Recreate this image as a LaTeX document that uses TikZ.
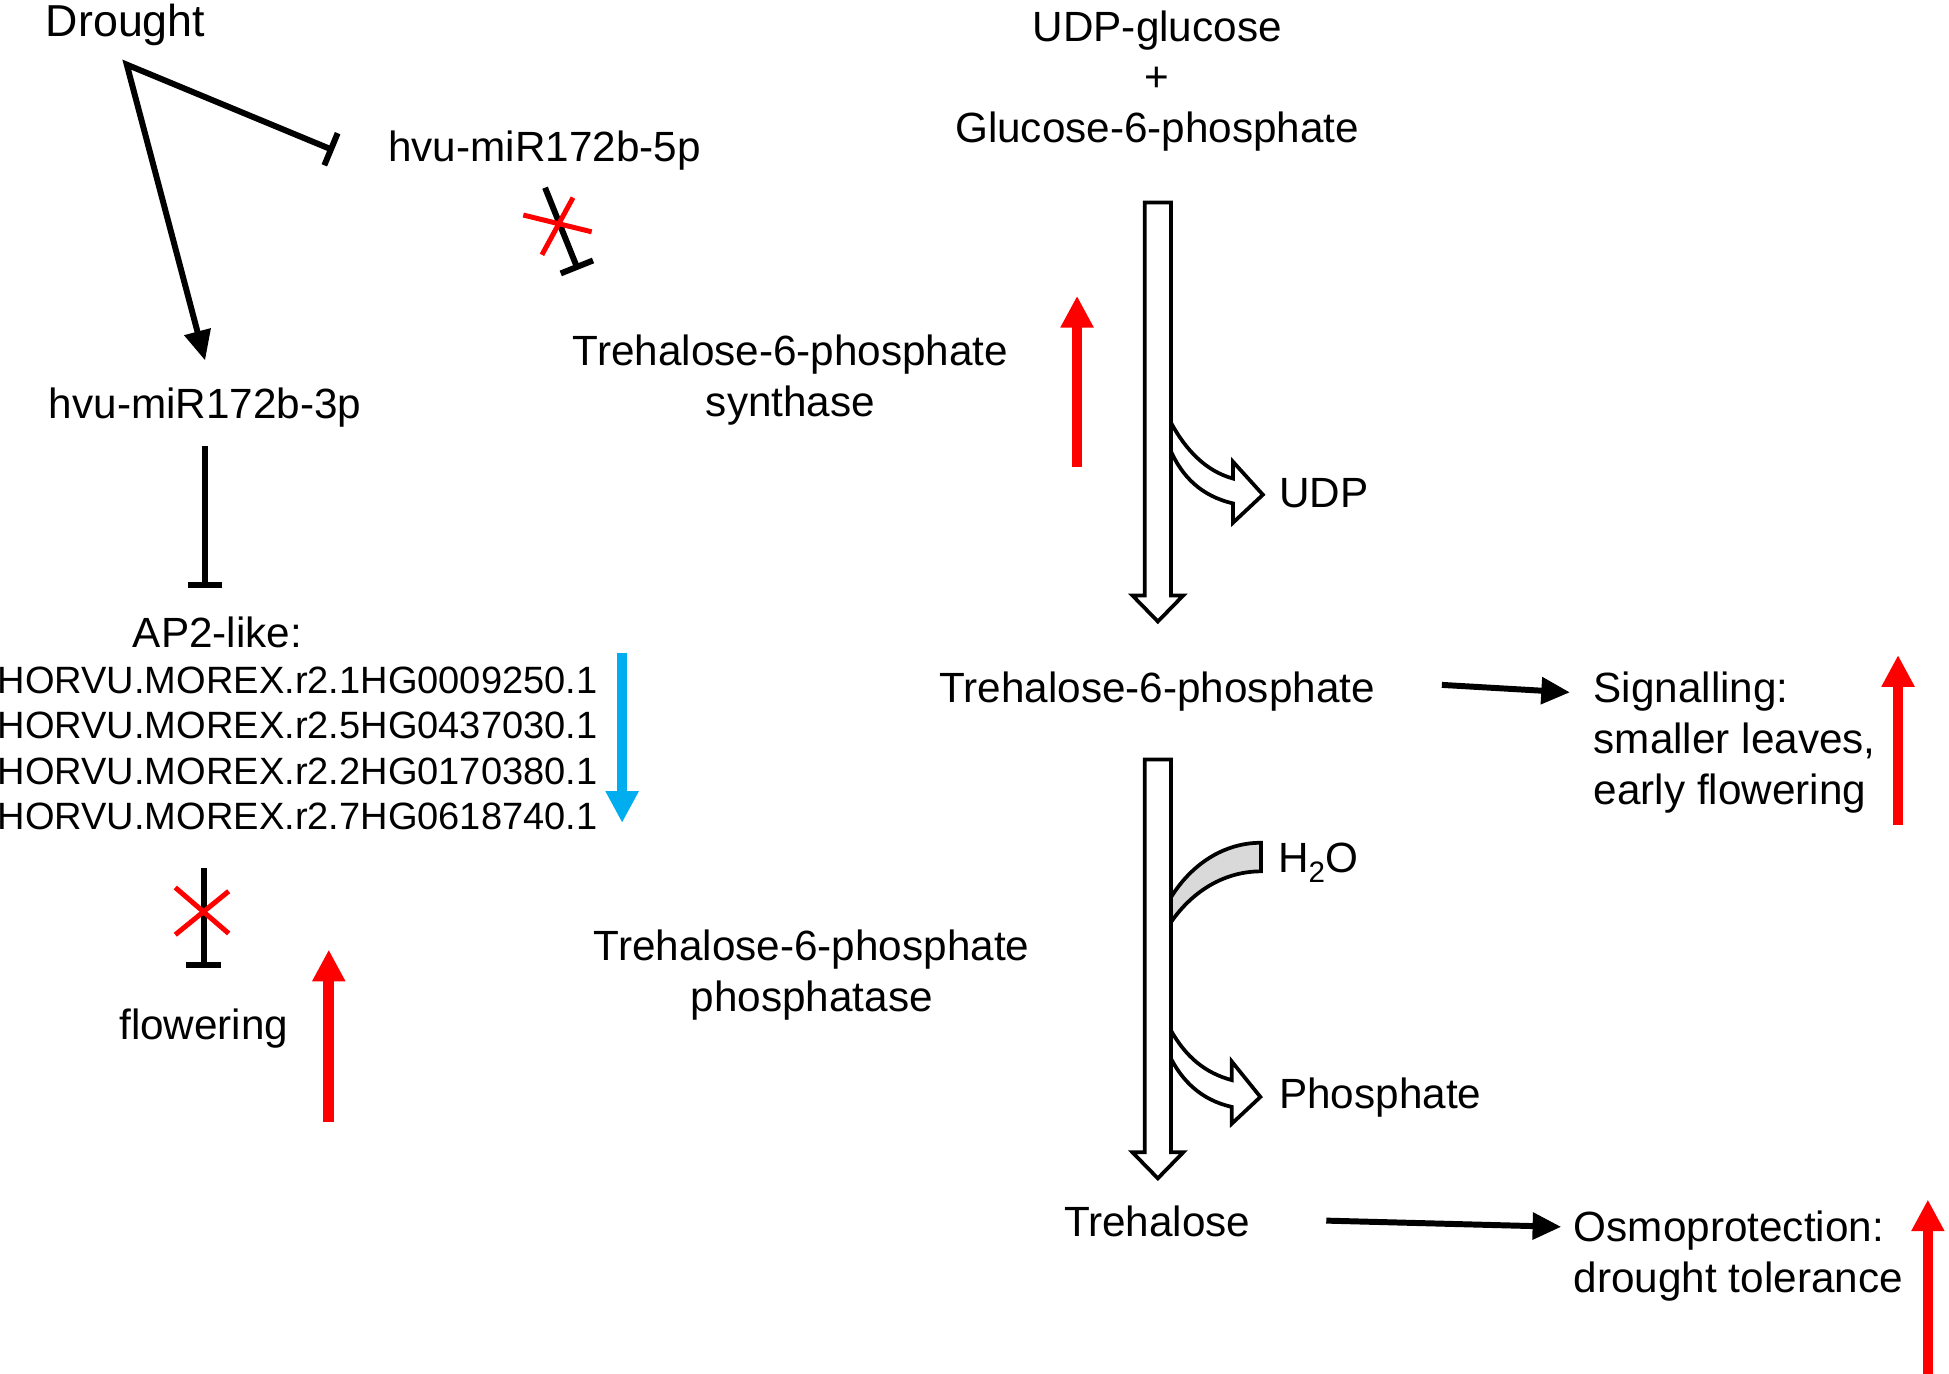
\documentclass[tikz,border=0pt]{standalone}
\usepackage{fontspec}
\setmainfont{Liberation Sans}
\usetikzlibrary{arrows.meta}
\definecolor{upred}{RGB}{255,0,0}
\definecolor{downblue}{RGB}{0,174,239}
\definecolor{watergray}{RGB}{217,217,217}
\begin{document}
\begin{tikzpicture}[x=1pt,y=-1pt,
  lbl/.style={inner sep=0pt, font=\fontsize{34}{41}\selectfont, align=center},
  lbll/.style={inner sep=0pt, font=\fontsize{34}{41}\selectfont, align=left},
  gene/.style={inner sep=0pt, font=\fontsize{30.6}{36.5}\selectfont, align=left},
  inh/.style={line width=4.8pt, -{Bar[width=28pt]}},
  act/.style={line width=4.8pt, -{Triangle[width=21pt,length=23pt]}},
  cross/.style={draw=upred, line width=4pt},
  updown/.style={line width=8.6pt, -{Triangle[width=25pt,length=25.5pt]}},
  hollow/.style={draw=black, fill=white, line width=3pt, line join=miter},
  water/.style={draw=black, fill=watergray, line width=3pt, line join=miter},
]
\useasboundingbox (0,0) rectangle (1568,1105);
\fill[white] (0,0) rectangle (1568,1105);

% ---------- texts (multi-line nodes: base = last line) ----------
\node[lbl, font=\fontsize{36}{41}\selectfont, anchor=base] (drought) at (101,29) {Drought};
\node[lbl, anchor=base] (mir5) at (438,130) {hvu-miR172b-5p};
\node[lbl, anchor=base] (mir3) at (165,337) {hvu-miR172b-3p};
\node[lbl, anchor=base] (ap2) at (175,521) {AP2-like:};
\node[gene, anchor=base west] (genes) at (-2,667.5) {HORVU.MOREX.r2.1HG0009250.1\\HORVU.MOREX.r2.5HG0437030.1\\HORVU.MOREX.r2.2HG0170380.1\\HORVU.MOREX.r2.7HG0618740.1};
\node[lbl, anchor=base] (flower) at (164,836) {flowering};
\node[lbl, anchor=base] (subs) at (931,115) {UDP-glucose\\+\\Glucose-6-phosphate};
\node[lbl, anchor=base] (tps) at (636,335) {Trehalose-6-phosphate\\synthase};
\node[lbll, anchor=base west] (udp) at (1029,408) {UDP};
\node[lbl, anchor=base] (t6p) at (931,565) {Trehalose-6-phosphate};
\node[lbll, anchor=base west] (sig) at (1282,647) {Signalling:\\smaller leaves,\\early flowering};
\node[lbll, anchor=base west] (h2o) at (1028,702) {H\textsubscript{2}O};
\node[lbl, anchor=base] (tpp) at (653,814) {Trehalose-6-phosphate\\phosphatase};
\node[lbll, anchor=base west] (pho) at (1029,891.5) {Phosphate};
\node[lbl, anchor=base] (tre) at (931,995) {Trehalose};
\node[lbll, anchor=base west] (osmo) at (1266,1040) {Osmoprotection:\\drought tolerance};

% ---------- coordinates ----------
\coordinate (dj) at (102,52);
\coordinate (b1) at (268.5,121);
\coordinate (t1) at (165,290);
\coordinate (i2s) at (438.5,151);
\coordinate (i2e) at (465,217);
\coordinate (i3s) at (165,359);
\coordinate (i3e) at (165,473);
\coordinate (i4s) at (164,698);
\coordinate (i4e) at (164,779);

% ---------- regulation lines ----------
\draw[line width=4.8pt, line join=miter, {Bar[width=28pt]}-{Triangle[width=21pt,length=24pt]}] (b1) -- (dj) -- (t1);
\draw[inh] (i2s) -- (i2e);
\draw[cross] (421,173) -- (476,186.5);
\draw[cross] (436,205) -- (461,159);
\draw[inh] (i3s) -- (i3e);
\draw[inh] (i4s) -- (i4e);
\draw[cross] (141,714) -- (184,751);
\draw[cross] (141,752) -- (184,717);

% ---------- up / down arrows ----------
\coordinate (r1b) at (866.5,376); \coordinate (r1t) at (866.5,238);
\coordinate (r2b) at (1527,664);  \coordinate (r2t) at (1527,527);
\coordinate (r3b) at (1551,1105); \coordinate (r3t) at (1551,965);
\coordinate (r4b) at (264.5,903); \coordinate (r4t) at (264.5,764);
\coordinate (bl1) at (500.5,525); \coordinate (bl2) at (500.5,662);
\draw[updown, upred] (r1b) -- (r1t);
\draw[updown, upred] (r2b) -- (r2t);
\draw[updown, upred] (r3b) -- (r3t);
\draw[updown, upred] (r4b) -- (r4t);
\draw[updown, downblue] (bl1) -- (bl2);

% ---------- black arrows to effects ----------
\coordinate (a1s) at (1160,551); \coordinate (a1e) at (1263,557);
\coordinate (a2s) at (1067,982); \coordinate (a2e) at (1256,987);
\draw[act] (a1s) -- (a1e);
\draw[act] (a2s) -- (a2e);

% ---------- side arrows ----------
\draw[hollow] (942,340) .. controls (954,362) and (970,379) .. (992,385)
  -- (992,371.5) -- (1016,398) -- (992,420.5) -- (992,405)
  .. controls (966,399) and (951,383) .. (942,363) -- cycle;
\draw[water] (942,722) .. controls (958,696) and (984,678) .. (1014.5,678)
  -- (1014.5,701) .. controls (986,701) and (960,716) .. (942,742) -- cycle;
\draw[hollow] (942,829) .. controls (954,850) and (969,863) .. (991,869)
  -- (991,854) -- (1014,882.5) -- (991,904) -- (991,890.5)
  .. controls (966,885) and (951,869) .. (942,851.5) -- cycle;

% ---------- main pathway arrows ----------
\draw[hollow] (921,163) -- (942,163) -- (942,479) -- (952,479) -- (931.5,500)
  -- (911,479) -- (921,479) -- cycle;
\draw[hollow] (921,611) -- (942,611) -- (942,927) -- (952,927) -- (931.5,948)
  -- (911,927) -- (921,927) -- cycle;
\end{tikzpicture}
\end{document}
